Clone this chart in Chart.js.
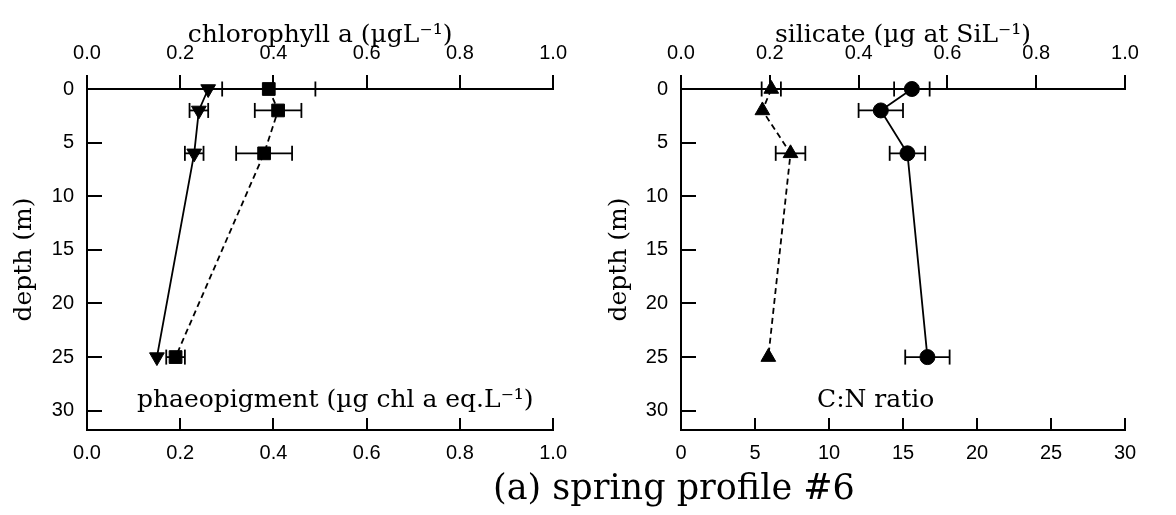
<!DOCTYPE html>
<html><head><meta charset="utf-8">
<script src="https://cdn.jsdelivr.net/npm/chart.js@4.4.1/dist/chart.umd.min.js"></script>
<style>
html,body{margin:0;padding:0;background:#fff;}
#wrap{position:relative;width:1176px;height:515px;overflow:hidden;background:#fff;}
.cv{position:absolute;top:0;}
.lbl{position:absolute;font-family:"DejaVu Serif",serif;color:#000;white-space:nowrap;}
</style></head><body>
<div id="wrap">
  <canvas id="c1" class="cv" style="left:0px" width="590" height="475"></canvas>
  <canvas id="c2" class="cv" style="left:595px" width="581" height="475"></canvas>
  <div class="lbl" style="left:137px;top:384px;font-size:25px;line-height:30px;">phaeopigment (µg chl a eq.L⁻¹)</div>
  <div class="lbl" style="left:817px;top:384px;font-size:25px;line-height:30px;">C:N ratio</div>
  <div class="lbl" style="left:493px;top:467px;font-size:35px;line-height:40px;">(a) spring profile #6</div>
</div>
<script>
// ---- data ----
const depths = [0, 2, 6, 25];
const chlA = [0.26, 0.24, 0.23, 0.15];
const chlAErr = [0, 0.02, 0.02, 0];
const phaeo = [0.39, 0.41, 0.38, 0.19];
const phaeoErr = [0.10, 0.05, 0.06, 0.02];
const silicate = [0.52, 0.45, 0.51, 0.555];
const silicateErr = [0.04, 0.05, 0.04, 0.05];
const cnRatio = [6.1, 5.5, 7.4, 5.9];
const cnRatioErr = [0.65, 0, 1.0, 0];
const fracTicks = [0, 0.2, 0.4, 0.6, 0.8, 1.0];
const cnTicks = [0, 5, 10, 15, 20, 25, 30];
const depthTicks = [0, 5, 10, 15, 20, 25, 30];
const depthMax = 31.8;

const BLACK = '#000';
const sansFont = {family: '"Liberation Sans", Arial, sans-serif', size: 20};
const serifFont = {family: '"DejaVu Serif", serif', size: 25};

function pts(xs) {
  return depths.map((d, i) => ({x: xs[i], y: d}));
}
function series(xs, axis, style, rot, radius, dash) {
  return {
    type: 'scatter', data: pts(xs), xAxisID: axis, yAxisID: 'y',
    showLine: true, borderColor: BLACK, borderWidth: 1.8, borderDash: dash,
    pointStyle: style, rotation: rot, pointRadius: radius,
    pointBackgroundColor: BLACK, pointBorderColor: BLACK, pointBorderWidth: 1,
    clip: false, order: 0
  };
}
function errorBars(xs, errs, axis) {
  const out = [];
  xs.forEach((v, i) => {
    if (errs[i] > 0) {
      out.push({
        type: 'scatter', xAxisID: axis, yAxisID: 'y',
        data: [{x: v - errs[i], y: depths[i]}, {x: v + errs[i], y: depths[i]}],
        showLine: true, borderColor: BLACK, borderWidth: 1.8,
        pointStyle: 'line', rotation: 90, pointRadius: 7.5,
        pointBorderColor: BLACK, pointBorderWidth: 1.8,
        clip: false, order: 1
      });
    }
  });
  return out;
}
function xScale(pos, tickVals, fmt, title) {
  const isTop = pos === 'top';
  return {
    type: 'linear', position: pos, min: tickVals[0], max: tickVals[tickVals.length - 1],
    afterBuildTicks: s => { s.ticks = tickVals.map(v => ({value: v})); },
    afterFit: s => { s.height = isTop ? 89 : 45; },
    ticks: {callback: fmt, padding: isTop ? 10 : 23, font: sansFont, color: BLACK,
            maxRotation: 0, minRotation: 0, autoSkip: false},
    grid: {drawOnChartArea: false, drawTicks: true, tickLength: isTop ? 14 : -12,
           color: BLACK, lineWidth: 2},
    border: {display: true, color: BLACK, width: 2},
    title: title ? {display: true, text: title, font: serifFont, color: BLACK,
                    padding: {top: 20, bottom: 0}} : {display: false}
  };
}
function yScale(width) {
  return {
    type: 'linear', position: 'left', reverse: true, min: 0, max: depthMax,
    afterBuildTicks: s => { s.ticks = depthTicks.map(v => ({value: v})); },
    afterFit: s => { s.width = width; },
    ticks: {padding: 28, font: sansFont, color: BLACK, autoSkip: false},
    grid: {drawOnChartArea: false, drawTicks: true, tickLength: -15, color: BLACK, lineWidth: 2},
    border: {display: true, color: BLACK, width: 2},
    title: {display: true, text: 'depth (m)', font: serifFont, color: BLACK,
            padding: {top: 9, bottom: 0}}
  };
}
const baseOpts = (padRight) => ({
  responsive: false, animation: false, devicePixelRatio: 1,
  layout: {padding: {left: 0, top: 0, right: padRight, bottom: 0}},
  plugins: {legend: {display: false}, tooltip: {enabled: false}, title: {display: false}}
});

// ---- left panel: chlorophyll a (top) & phaeopigment (bottom) ----
const opts1 = baseOpts(30);
opts1.scales = {
  xt: xScale('top', fracTicks, v => v.toFixed(1), 'chlorophyll a (µgL⁻¹)'),
  xb: xScale('bottom', fracTicks, v => v.toFixed(1), null),
  y: yScale(87)
};
new Chart(document.getElementById('c1'), {
  type: 'scatter',
  data: {datasets: [
    series(chlA, 'xt', 'triangle', 180, 8.5, []),
    series(phaeo, 'xb', 'rect', 0, 9, [6, 4]),
    ...errorBars(chlA, chlAErr, 'xt'),
    ...errorBars(phaeo, phaeoErr, 'xb')
  ]},
  options: opts1
});

// ---- right panel: silicate (top) & C:N ratio (bottom) ----
const opts2 = baseOpts(51);
opts2.scales = {
  xt: xScale('top', fracTicks, v => v.toFixed(1), 'silicate (µg at SiL⁻¹)'),
  xb: xScale('bottom', cnTicks, v => String(v), null),
  y: yScale(86)
};
new Chart(document.getElementById('c2'), {
  type: 'scatter',
  data: {datasets: [
    series(silicate, 'xt', 'circle', 0, 7.5, []),
    series(cnRatio, 'xb', 'triangle', 0, 8.5, [6, 4]),
    ...errorBars(silicate, silicateErr, 'xt'),
    ...errorBars(cnRatio, cnRatioErr, 'xb')
  ]},
  options: opts2
});
</script>
</body></html>
